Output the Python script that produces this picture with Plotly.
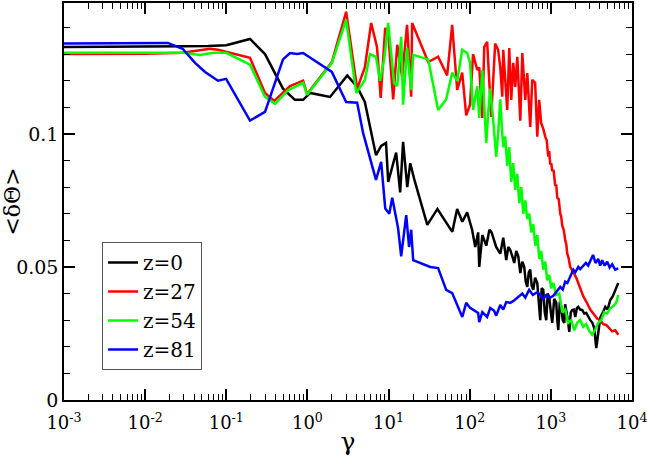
import plotly.graph_objects as go

# ---- data: gamma values and <dTheta> for each z ----
g_z0 = [0.001, 0.003, 0.01, 0.03, 0.06, 0.1, 0.196, 0.30, 0.50, 0.70, 0.885, 1.08, 1.9, 3.1, 4.1, 5.1,
        7.0, 8.1, 9.3, 9.9, 12.4, 13.9, 15.1, 17.0, 18.5, 20.7, 30, 40, 61, 70, 81, 93, 107, 117, 127,
        131, 143, 160, 175, 186, 212, 238, 259, 282, 299, 316, 335, 354, 375, 397, 420, 445, 470, 490,
        512, 535, 557, 580, 607, 640, 680, 710, 740, 770, 806, 840, 877, 915, 955, 1000, 1040, 1100,
        1166, 1200, 1234, 1290, 1344, 1400, 1463, 1500, 1549, 1620, 1687, 1760, 1837, 1920, 2000, 2090,
        2178, 2300, 2440, 2580, 2731, 2900, 3060, 3250, 3427, 3630, 3850, 4064, 4400, 4690, 5000, 5400,
        5800, 6220, 6776]
y_z0 = [0.1327, 0.1327, 0.1328, 0.1329, 0.1330, 0.1333, 0.1357, 0.1300, 0.1170, 0.1128, 0.1128, 0.1154,
        0.1139, 0.1220, 0.1177, 0.1120, 0.0920, 0.0955, 0.0966, 0.0820, 0.0930, 0.0780, 0.0970, 0.0800,
        0.0890, 0.0830, 0.0658, 0.0718, 0.0632, 0.0718, 0.0670, 0.0705, 0.0640, 0.0575, 0.0630, 0.0500,
        0.0620, 0.0580, 0.0640, 0.0630, 0.0575, 0.0550, 0.0610, 0.0526, 0.0575, 0.0564, 0.0540, 0.0515,
        0.0560, 0.0540, 0.0477, 0.0520, 0.0500, 0.0445, 0.0425, 0.0480, 0.0490, 0.0430, 0.0414, 0.0460,
        0.0440, 0.0380, 0.0300, 0.0420, 0.0414, 0.0330, 0.0300, 0.0400, 0.0387, 0.0330, 0.0290, 0.0380,
        0.0365, 0.0300, 0.0263, 0.0370, 0.0350, 0.0300, 0.0290, 0.0360, 0.0338, 0.0300, 0.0256, 0.0330,
        0.0338, 0.0340, 0.0312, 0.0345, 0.0350, 0.0340, 0.0338, 0.0325, 0.0327, 0.0310, 0.0300, 0.0290,
        0.0270, 0.0195, 0.0260, 0.0310, 0.0330, 0.0350, 0.0340, 0.0376, 0.0390, 0.0414, 0.0440]

g_z27 = [0.001, 0.01, 0.029, 0.063, 0.079, 0.196, 0.30, 0.39, 0.61, 0.885, 0.99, 2.0, 3.0, 4.1, 5.1,
         6.1, 7.2, 8.0, 9.08, 9.89, 11.4, 12.8, 14.7, 16.9, 19.0, 19.5, 30.8, 40.8, 52.7, 60.8, 70.1,
         80.8, 90.5, 101, 110, 124, 131, 143, 151, 164, 184, 206, 224, 238, 252, 259, 274, 290, 307,
         325, 344, 364, 386, 420, 445, 484, 512, 557, 590, 640, 680, 718, 760, 805, 853, 890, 929, 955,
         983, 1011, 1040, 1080, 1132, 1165, 1199, 1250, 1305, 1340, 1381, 1440, 1504, 1550, 1592, 1650,
         1733, 1790, 1890, 2058, 2178, 2303, 2506, 2731, 3060, 3427, 3740, 4064, 4420, 4810, 5240, 5700,
         6220, 6776]
y_z27 = [0.1300, 0.1301, 0.1305, 0.1320, 0.1316, 0.1286, 0.1154, 0.1124, 0.1180, 0.1200, 0.1150,
         0.1270, 0.1459, 0.1170, 0.1250, 0.1417, 0.1327, 0.1135, 0.1398, 0.1380, 0.1130, 0.1335, 0.1214,
         0.1410, 0.1140, 0.1417, 0.1270, 0.1290, 0.1220, 0.1410, 0.1165, 0.1230, 0.1070, 0.1110, 0.1300,
         0.1240, 0.1250, 0.1060, 0.1327, 0.1346, 0.1064, 0.1340, 0.1316, 0.1250, 0.1140, 0.1316, 0.1203,
         0.1090, 0.1323, 0.1128, 0.1267, 0.1177, 0.1290, 0.1050, 0.1304, 0.1128, 0.1229, 0.1026, 0.1203,
         0.1192, 0.0990, 0.1128, 0.1040, 0.1020, 0.0990, 0.0975, 0.0915, 0.0935, 0.0885, 0.0890, 0.0860,
         0.0865, 0.0805, 0.0810, 0.0760, 0.0755, 0.0700, 0.0690, 0.0655, 0.0640, 0.0600, 0.0585, 0.0550,
         0.0535, 0.0500, 0.0490, 0.0480, 0.0459, 0.0440, 0.0425, 0.0390, 0.0370, 0.0340, 0.0320, 0.0305,
         0.0300, 0.0285, 0.0282, 0.0270, 0.0258, 0.0262, 0.0245]

g_z54 = [0.001, 0.029, 0.0475, 0.069, 0.1, 0.196, 0.30, 0.40, 0.58, 0.885, 0.99, 2.0, 3.0, 4.0, 5.1,
         5.9, 7.0, 7.88, 8.83, 9.89, 11.7, 12.8, 14.3, 15.1, 16.9, 19.0, 20.1, 30.8, 40.8, 51.3, 60.8,
         70.1, 80.8, 93.1, 101, 110, 124, 131, 143, 151, 160, 169, 179, 195, 212, 224, 238, 252, 259,
         274, 290, 307, 325, 344, 364, 385, 408, 432, 457, 484, 512, 542, 573, 607, 643, 680, 720, 762,
         806, 853, 903, 955, 1011, 1071, 1166, 1270, 1381, 1504, 1637, 1783, 1941, 2113, 2300, 2505,
         2727, 2969, 3233, 3520, 3833, 4173, 4544, 4947, 5386, 5864, 6385, 6770]
y_z54 = [0.1305, 0.1305, 0.1297, 0.1305, 0.1305, 0.1260, 0.1140, 0.1113, 0.1165, 0.1192, 0.1147,
         0.1267, 0.1429, 0.1154, 0.1203, 0.1300, 0.1290, 0.1200, 0.1280, 0.1417, 0.1190, 0.1180, 0.1365,
         0.1110, 0.1323, 0.1165, 0.1297, 0.1280, 0.1090, 0.1130, 0.1230, 0.1200, 0.1316, 0.1304, 0.1267,
         0.1090, 0.1180, 0.1060, 0.1240, 0.1100, 0.0966, 0.1080, 0.1170, 0.1050, 0.0914, 0.1000, 0.1130,
         0.1000, 0.0950, 0.0990, 0.0880, 0.0950, 0.0820, 0.0890, 0.0790, 0.0850, 0.0740, 0.0800, 0.0700,
         0.0750, 0.0680, 0.0700, 0.0630, 0.0660, 0.0580, 0.0620, 0.0530, 0.0560, 0.0490, 0.0520, 0.0450,
         0.0470, 0.0420, 0.0440, 0.0395, 0.0400, 0.0330, 0.0340, 0.0290, 0.0300, 0.0262, 0.0290, 0.0300,
         0.0275, 0.0285, 0.0260, 0.0245, 0.0265, 0.0290, 0.0300, 0.0330, 0.0325, 0.0345, 0.0352, 0.0365,
         0.0395]

g_z81 = [0.001, 0.01, 0.019, 0.029, 0.0412, 0.0548, 0.079, 0.0995, 0.196, 0.30, 0.50, 0.61, 0.746,
         0.885, 1.9, 2.0, 3.0, 4.1, 4.86, 7.0, 8.1, 9.1, 10.2, 11.1, 13.1, 14.3, 16.5, 17.9, 19.0, 20.1,
         32.6, 40.8, 51.3, 60.8, 81, 90.5, 101, 127, 131, 143, 164, 179, 200, 212, 238, 259, 282, 316,
         355, 397, 445, 484, 540, 600, 680, 740, 806, 880, 984, 1071, 1166, 1305, 1400, 1504, 1600,
         1733, 1890, 2000, 2178, 2300, 2505, 2700, 2880, 3100, 3310, 3550, 3833, 4050, 4290, 4600, 4947,
         5300, 5700, 6200, 6770]
y_z81 = [0.1340, 0.1341, 0.1342, 0.1320, 0.1267, 0.1233, 0.1200, 0.1207, 0.1050, 0.1083, 0.1280,
         0.1304, 0.1300, 0.1304, 0.1240, 0.1233, 0.1120, 0.1117, 0.1003, 0.0827, 0.0895, 0.0720, 0.0700,
         0.0760, 0.0646, 0.0540, 0.0695, 0.0575, 0.0640, 0.0526, 0.0500, 0.0496, 0.0414, 0.0402, 0.0312,
         0.0365, 0.0346, 0.0327, 0.0293, 0.0330, 0.0312, 0.0346, 0.0335, 0.0317, 0.0357, 0.0340, 0.0368,
         0.0365, 0.0375, 0.0387, 0.0400, 0.0385, 0.0414, 0.0395, 0.0405, 0.0395, 0.0380, 0.0395, 0.0385,
         0.0392, 0.0405, 0.0425, 0.0415, 0.0445, 0.0440, 0.0465, 0.0490, 0.0480, 0.0500, 0.0492, 0.0505,
         0.0515, 0.0505, 0.0530, 0.0545, 0.0515, 0.0530, 0.0505, 0.0525, 0.0505, 0.0520, 0.0498, 0.0510,
         0.0490, 0.0495]

series_names = ["z=0", "z=27", "z=54", "z=81"]
series_colors = ["#000000", "#ff0000", "#00ff00", "#0000ff"]

x_tick_vals = [1e-3, 1e-2, 1e-1, 1e0, 1e1, 1e2, 1e3, 1e4]
x_tick_text = ["10<sup>-3</sup>", "10<sup>-2</sup>", "10<sup>-1</sup>", "10<sup>0</sup>",
               "10<sup>1</sup>", "10<sup>2</sup>", "10<sup>3</sup>", "10<sup>4</sup>"]
x_minor_vals = [m * 10 ** e for e in range(-3, 4) for m in range(2, 10)]
y_tick_vals = [0, 0.05, 0.1]
y_tick_text = ["0", "0.05", "0.1"]

FONT = "DejaVu Serif"

fig = go.Figure()
for gx, yy, name, col in zip([g_z0, g_z27, g_z54, g_z81], [y_z0, y_z27, y_z54, y_z81],
                             series_names, series_colors):
    fig.add_trace(go.Scatter(x=gx, y=yy, mode="lines", name=name,
                             line=dict(color=col, width=2.5)))

fig.update_layout(
    width=647, height=464,
    margin=dict(l=64, r=15, t=3, b=64, autoexpand=False),
    paper_bgcolor="white", plot_bgcolor="white",
    font=dict(family=FONT, size=20, color="black"),
    showlegend=True,
    legend=dict(x=0.067, y=0.398, xanchor="left", yanchor="top",
                bgcolor="white", bordercolor="#555555", borderwidth=1,
                font=dict(family=FONT, size=20), tracegroupgap=0,
                itemwidth=30),
)
fig.update_xaxes(
    type="log", range=[-3, 4], showgrid=False, zeroline=False, automargin=False,
    showline=True, linecolor="black", linewidth=1.5, mirror="ticks",
    ticks="inside", ticklen=11, tickwidth=1.5, tickcolor="black",
    tickvals=x_tick_vals, ticktext=x_tick_text, ticklabeloverflow="allow",
    tickfont=dict(family=FONT, size=18), ticklabelstandoff=6,
    minor=dict(tickvals=x_minor_vals, ticks="inside", ticklen=6, tickwidth=1.2, tickcolor="black",
               showgrid=False),
    title=dict(text="γ", font=dict(family=FONT, size=25), standoff=0),
)
fig.update_yaxes(
    range=[0, 0.1492], showgrid=False, zeroline=False, automargin=False,
    showline=True, linecolor="black", linewidth=1.5, mirror="ticks",
    ticks="inside", ticklen=11, tickwidth=1.5, tickcolor="black",
    tickvals=y_tick_vals, ticktext=y_tick_text,
    tickfont=dict(family=FONT, size=19),
    minor=dict(dtick=0.01, tick0=0, ticks="inside", ticklen=6, tickwidth=1.2, tickcolor="black",
               showgrid=False),
    title=dict(text="&lt;δΘ&gt;", font=dict(family=FONT, size=22), standoff=6),
)

fig.write_html("out.html", config={"displayModeBar": False},
               post_script="document.body.style.margin='0';document.body.style.padding='0';")
